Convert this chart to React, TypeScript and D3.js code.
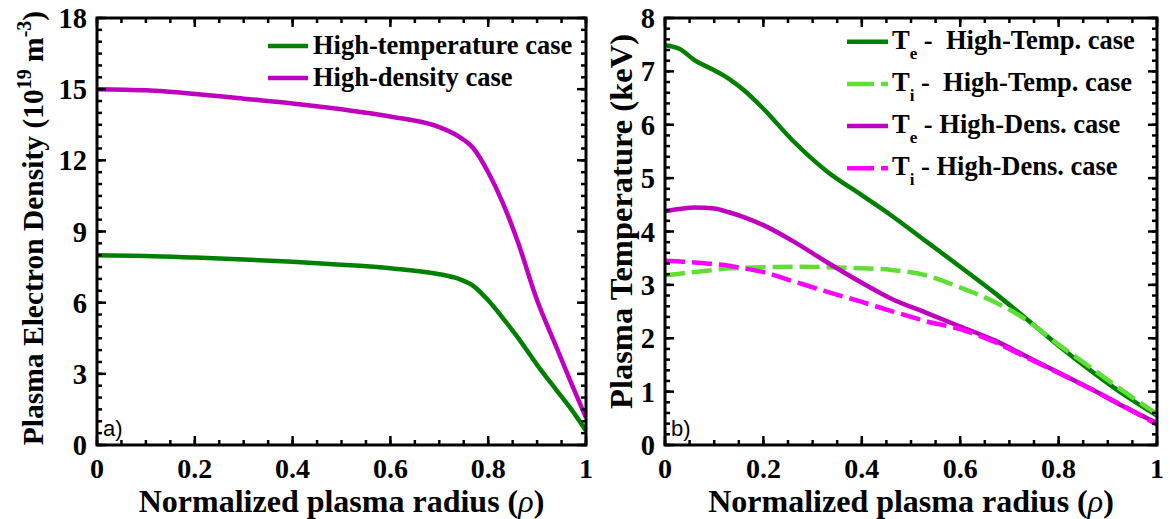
import React from "react";
import * as d3 from "d3";

// ---------- data ----------
const densRho = [0, 0.1, 0.2, 0.3, 0.4, 0.5, 0.6, 0.7, 0.74, 0.77, 0.8, 0.83, 0.86, 0.9, 0.94, 0.97, 1.0];
const densHighTemp = [8.0, 7.97, 7.9, 7.82, 7.72, 7.6, 7.45, 7.2, 7.0, 6.7, 6.1, 5.35, 4.55, 3.38, 2.3, 1.5, 0.6];
const densHighDens = [15.0, 14.95, 14.8, 14.6, 14.4, 14.15, 13.85, 13.4, 13.0, 12.5, 11.5, 10.2, 8.6, 6.1, 4.1, 2.6, 1.15];

const tempRho = [0, 0.03, 0.06, 0.1, 0.13, 0.16, 0.2, 0.26, 0.33, 0.4, 0.46, 0.53, 0.6, 0.67, 0.73, 0.8, 0.87, 0.93, 1.0];
const teHighTemp = [7.49, 7.42, 7.21, 7.02, 6.86, 6.65, 6.3, 5.7, 5.12, 4.68, 4.3, 3.82, 3.34, 2.85, 2.4, 1.86, 1.36, 0.96, 0.55];
const tiHighTemp = [3.18, 3.21, 3.24, 3.28, 3.31, 3.32, 3.33, 3.34, 3.33, 3.31, 3.28, 3.18, 2.95, 2.68, 2.37, 1.88, 1.42, 1.02, 0.58];
const teHighDens = [4.38, 4.42, 4.45, 4.43, 4.36, 4.27, 4.12, 3.82, 3.42, 3.04, 2.74, 2.48, 2.22, 1.96, 1.68, 1.36, 1.03, 0.73, 0.41];
const tiHighDens = [3.45, 3.44, 3.42, 3.39, 3.36, 3.31, 3.24, 3.07, 2.87, 2.68, 2.51, 2.32, 2.17, 1.93, 1.66, 1.35, 1.03, 0.74, 0.38];

const xTicks = [0, 0.2, 0.4, 0.6, 0.8, 1];
const xTickLabels = ["0", "0.2", "0.4", "0.6", "0.8", "1"];
const densTicks = [0, 3, 6, 9, 12, 15, 18];
const tempTicks = [0, 1, 2, 3, 4, 5, 6, 7, 8];

const C_DKGREEN = "#008000";
const C_PURPLE = "#bf00bf";
const C_LTGREEN = "#5fdf35";
const C_PINK = "#ff00ff";

const SERIF = "'Liberation Serif', 'Times New Roman', serif";

type Series = { xs: number[]; ys: number[]; color: string; dash?: string };

function Panel(props: {
  x0: number; x1: number; y0: number; y1: number;
  yMax: number; yTicks: number[]; yMinorStep: number;
  series: Series[]; tag: string;
}) {
  const { x0, x1, y0, y1, yMax, yTicks, yMinorStep, series, tag } = props;
  const x = d3.scaleLinear().domain([0, 1]).range([x0, x1]);
  const y = d3.scaleLinear().domain([0, yMax]).range([y1, y0]);
  const xMinor = d3.range(0, 1.0001, 0.05);
  const yMinor = d3.range(0, yMax + 1e-6, yMinorStep);
  const line = (s: Series) =>
    d3.line<number>()
      .x((_, i) => x(s.xs[i]))
      .y((v) => y(v))
      .curve(d3.curveMonotoneX)(s.ys) || "";
  const MJ = 9, MN = 5;
  return (
    <g>
      <defs>
        <clipPath id={"clip" + tag}>
          <rect x={x0} y={y0} width={x1 - x0} height={y1 - y0} />
        </clipPath>
      </defs>
      {series.map((s, i) => (
        <path key={i} d={line(s)} fill="none" stroke={s.color} strokeWidth={4.5}
          strokeDasharray={s.dash} clipPath={`url(#clip${tag})`} />
      ))}
      {xMinor.map((t, i) => (
        <g key={"xm" + i} stroke="#000" strokeWidth={2.5}>
          <line x1={x(t)} x2={x(t)} y1={y1} y2={y1 - MN} />
          <line x1={x(t)} x2={x(t)} y1={y0} y2={y0 + MN} />
        </g>
      ))}
      {xTicks.map((t, i) => (
        <g key={"xM" + i} stroke="#000" strokeWidth={2.5}>
          <line x1={x(t)} x2={x(t)} y1={y1} y2={y1 - MJ} />
          <line x1={x(t)} x2={x(t)} y1={y0} y2={y0 + MJ} />
        </g>
      ))}
      {yMinor.map((t, i) => (
        <g key={"ym" + i} stroke="#000" strokeWidth={2.5}>
          <line x1={x0} x2={x0 + MN} y1={y(t)} y2={y(t)} />
          <line x1={x1} x2={x1 - MN} y1={y(t)} y2={y(t)} />
        </g>
      ))}
      {yTicks.map((t, i) => (
        <g key={"yM" + i} stroke="#000" strokeWidth={2.5}>
          <line x1={x0} x2={x0 + MJ} y1={y(t)} y2={y(t)} />
          <line x1={x1} x2={x1 - MJ} y1={y(t)} y2={y(t)} />
        </g>
      ))}
      <rect x={x0} y={y0} width={x1 - x0} height={y1 - y0} fill="none" stroke="#000" strokeWidth={3} />
      {xTicks.map((t, i) => (
        <text key={"xl" + i} x={x(t)} y={y1 + 33} textAnchor="middle"
          fontFamily={SERIF} fontWeight="bold" fontSize={28}>{xTickLabels[i]}</text>
      ))}
      {yTicks.map((t, i) => (
        <text key={"yl" + i} x={x0 - 10} y={y(t) + 10} textAnchor="end"
          fontFamily={SERIF} fontWeight="bold" fontSize={28.5}>{t}</text>
      ))}
      <text x={(x0 + x1) / 2} y={y1 + 66.5} textAnchor="middle" fontFamily={SERIF}
        fontWeight="bold" fontSize={32}>
        Normalized plasma radius (<tspan fontStyle="italic" fontWeight="normal">ρ</tspan>)
      </text>
      <text x={x0 + 6} y={y1 - 9} fontFamily="'Liberation Sans', Arial, sans-serif" fontSize={22}>{tag})</text>
    </g>
  );
}

export default function App() {
  const L = { x0: 97, x1: 586, y0: 18, y1: 445 };
  const R = { x0: 665, x1: 1157, y0: 18, y1: 445 };
  const dash = "20,7";
  const leftSeries: Series[] = [
    { xs: densRho, ys: densHighTemp, color: C_DKGREEN },
    { xs: densRho, ys: densHighDens, color: C_PURPLE },
  ];
  const rightSeries: Series[] = [
    { xs: tempRho, ys: teHighTemp, color: C_DKGREEN },
    { xs: tempRho, ys: tiHighTemp, color: C_LTGREEN, dash },
    { xs: tempRho, ys: teHighDens, color: C_PURPLE },
    { xs: tempRho, ys: tiHighDens, color: C_PINK, dash },
  ];
  const leftLegend = [
    { label: "High-temperature case", color: C_DKGREEN },
    { label: "High-density case", color: C_PURPLE },
  ];
  const rightLegend = [
    { sub: "e", rest: " -  High-Temp. case", color: C_DKGREEN, dash: undefined as string | undefined },
    { sub: "i", rest: " -  High-Temp. case", color: C_LTGREEN, dash: "27,7" },
    { sub: "e", rest: " - High-Dens. case", color: C_PURPLE, dash: undefined },
    { sub: "i", rest: " - High-Dens. case", color: C_PINK, dash: "27,7" },
  ];
  return (
    <svg width={1170} height={519} style={{ display: "block", position: "absolute", left: 0, top: 0, background: "#fff" }}>
      <rect x={0} y={0} width={1170} height={519} fill="#fff" />
      <Panel {...L} yMax={18} yTicks={densTicks} yMinorStep={0.5} series={leftSeries} tag="a" />
      <Panel {...R} yMax={8} yTicks={tempTicks} yMinorStep={0.2} series={rightSeries} tag="b" />

      <text transform={`translate(43, 228) rotate(-90)`} textAnchor="middle"
        fontFamily={SERIF} fontWeight="bold" fontSize={29.5}>
        Plasma Electron Density (10<tspan dy={-12} fontSize={20}>19</tspan>
        <tspan dy={12}> m</tspan><tspan dy={-12} fontSize={20}>-3</tspan><tspan dy={12}>)</tspan>
      </text>
      <text transform={`translate(632, 221.5) rotate(-90)`} textAnchor="middle"
        fontFamily={SERIF} fontWeight="bold" fontSize={32.5}>
        Plasma Temperature (keV)
      </text>

      {leftLegend.map((d, i) => (
        <g key={"ll" + i}>
          <line x1={268} x2={308} y1={46 + i * 32} y2={46 + i * 32} stroke={d.color} strokeWidth={4.5} />
          <text x={313} y={46 + i * 32 + 8} fontFamily={SERIF} fontWeight="bold" fontSize={26.5}>{d.label}</text>
        </g>
      ))}
      {rightLegend.map((d, i) => {
        const yy = 41.7 + i * 42.2;
        return (
          <g key={"rl" + i}>
            <line x1={847} x2={888} y1={yy} y2={yy} stroke={d.color} strokeWidth={4.5} strokeDasharray={d.dash} />
            <text x={892} y={yy + 7} fontFamily={SERIF} fontWeight="bold" fontSize={26.5} style={{ whiteSpace: "pre" }}>
              T<tspan dy={10} fontSize={17}>{d.sub}</tspan><tspan dy={-10}>{d.rest}</tspan>
            </text>
          </g>
        );
      })}
    </svg>
  );
}
